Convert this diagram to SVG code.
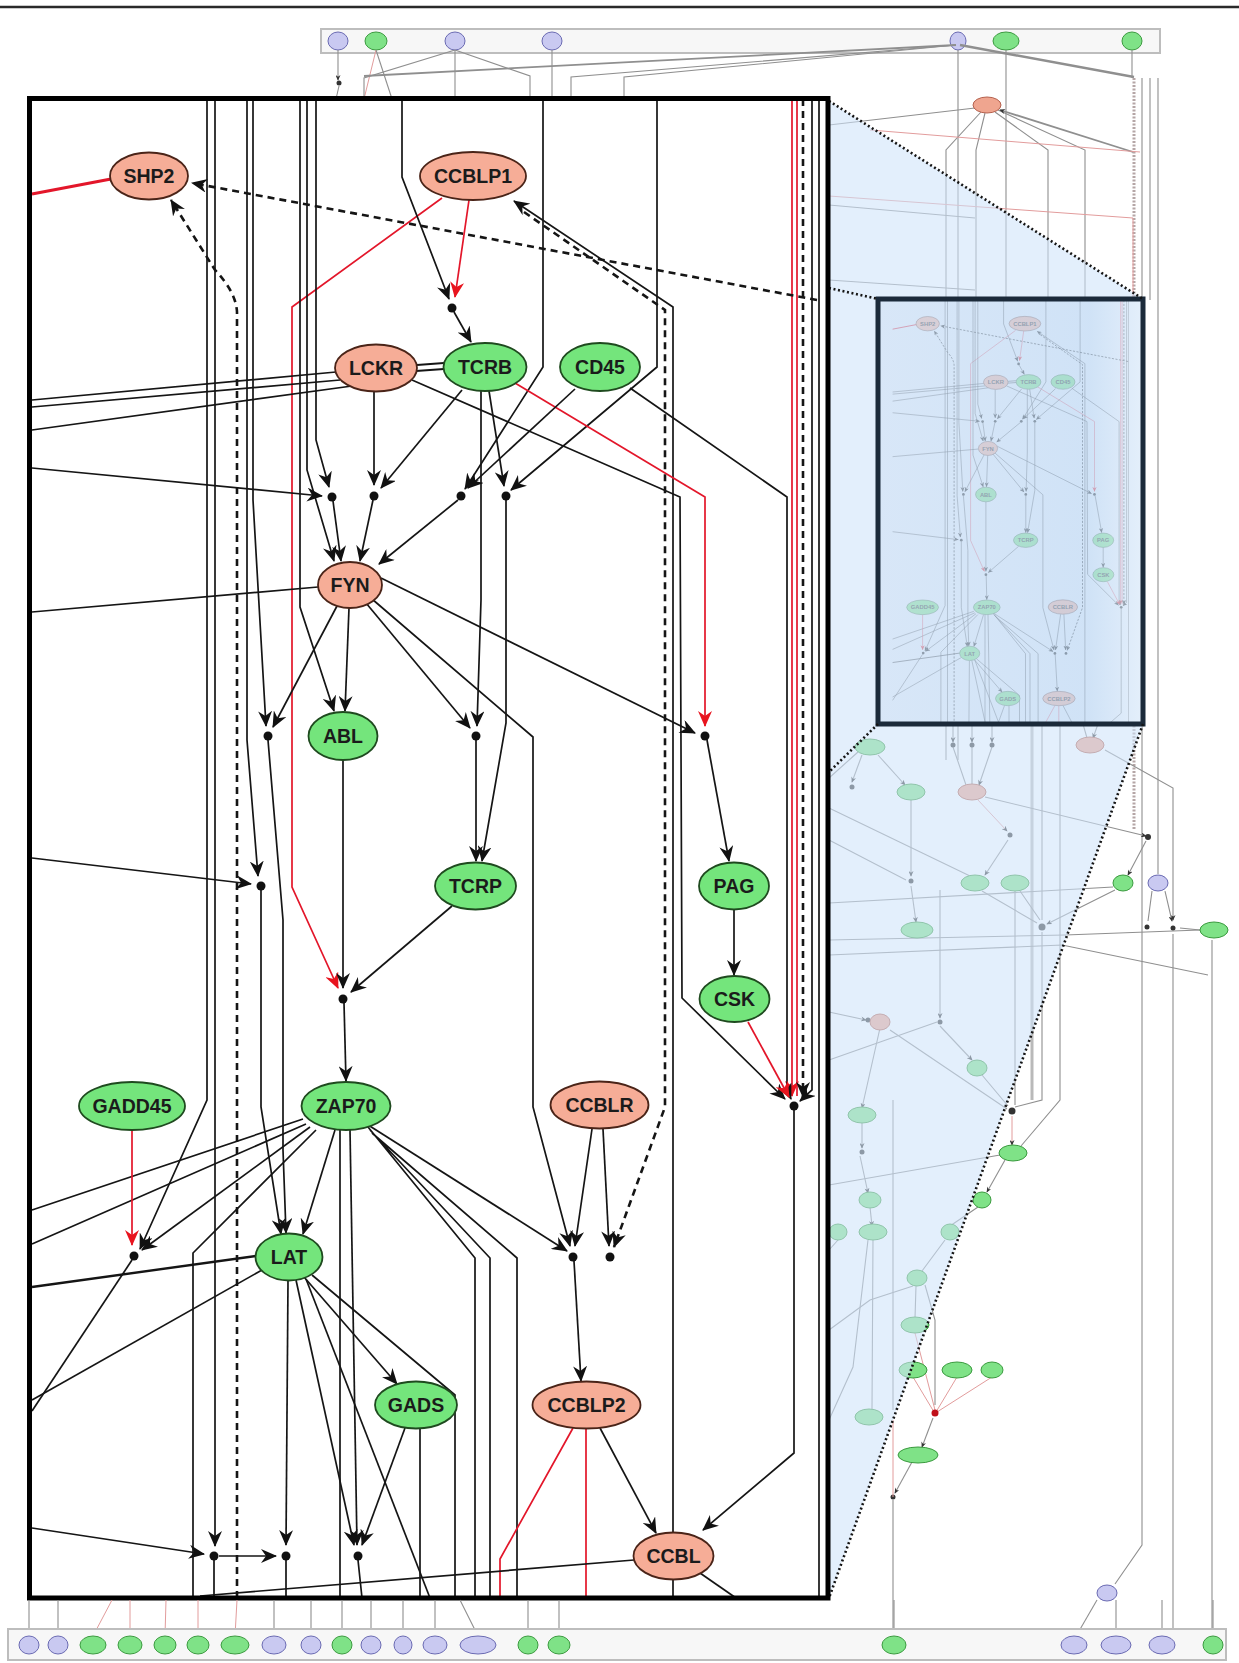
<svg xmlns="http://www.w3.org/2000/svg" xmlns:xlink="http://www.w3.org/1999/xlink" width="1239" height="1663" viewBox="0 0 1239 1663">
<style>
.e{fill:none;stroke:#151515;stroke-width:1.7}
.r{fill:none;stroke:#e3162a;stroke-width:1.7}
.d{fill:none;stroke:#151515;stroke-width:2.6;stroke-dasharray:7 5}
.a{marker-end:url(#ah)}
.ar{marker-end:url(#ahr)}
.j{fill:#111}
.pk ellipse{fill:#f6ad97;stroke:#4a2418;stroke-width:1.8}
.gn ellipse{fill:#74e57c;stroke:#1f4a1f;stroke-width:1.8}
.lbl{font-family:"Liberation Sans",Arial,sans-serif;font-weight:bold;font-size:19.5px;text-anchor:middle;fill:#1b1b1b}
.bg{fill:none;stroke:#8f8f8f;stroke-width:1.1}
.bgt{fill:none;stroke:#8f8f8f;stroke-width:2.4}
.bgr{fill:none;stroke:#e29c9c;stroke-width:1}
.bga{marker-end:url(#sah)}
.np{fill:#c9c9f1;stroke:#6a6ab2;stroke-width:1}
.ng{fill:#7fe287;stroke:#3b9a3f;stroke-width:1}
.nk{fill:#efa58f;stroke:#b5624f;stroke-width:1}
.dot{fill:none;stroke:#151515;stroke-width:2.6;stroke-dasharray:2 2.6}
.sj{fill:#333}
</style>
<defs>
<marker id="ah" viewBox="0 0 16 14" refX="15" refY="7" markerWidth="16" markerHeight="14" markerUnits="userSpaceOnUse" orient="auto"><path d="M0,0 L16,7 L0,14 L5,7 z" fill="#111"/></marker>
<marker id="ahr" viewBox="0 0 16 14" refX="15" refY="7" markerWidth="16" markerHeight="14" markerUnits="userSpaceOnUse" orient="auto"><path d="M0,0 L16,7 L0,14 L5,7 z" fill="#e8141e"/></marker>
<marker id="sah" viewBox="0 0 8 7" refX="7" refY="3.5" markerWidth="6" markerHeight="5" markerUnits="userSpaceOnUse" orient="auto"><path d="M0,0 L8,3.5 L0,7 L2.5,3.5 z" fill="#333"/></marker>
<linearGradient id="rectg" x1="0" y1="0" x2="1" y2="0"><stop offset="0" stop-color="#c6dcf4"/><stop offset="0.8" stop-color="#b7d4f2"/><stop offset="1" stop-color="#dcebfa"/></linearGradient>
<clipPath id="miniClip"><rect x="880" y="301" width="261" height="421"/></clipPath>
</defs>
<rect x="0" y="0" width="1239" height="1663" fill="#fff"/>
<line x1="0" y1="7" x2="1239" y2="7" stroke="#2a2a2a" stroke-width="2.5"/>

<!-- top box -->
<g id="top-box">
<rect x="321" y="29" width="839" height="24" fill="#f7f7f7" stroke="#bdbdbd" stroke-width="2"/>
<ellipse class="np" cx="338" cy="41" rx="10" ry="9"/>
<ellipse class="ng" cx="376" cy="41" rx="11" ry="9"/>
<ellipse class="np" cx="455" cy="41" rx="10" ry="9"/>
<ellipse class="np" cx="552" cy="41" rx="10" ry="9"/>
<ellipse class="np" cx="958" cy="41" rx="8" ry="9"/>
<ellipse class="ng" cx="1006" cy="41" rx="13" ry="9"/>
<ellipse class="ng" cx="1132" cy="41" rx="10" ry="9"/>
</g>

<!-- background graph connectors -->
<g id="background-connectors">
<path class="bg bga" d="M338,50 V80"/><circle class="sj" cx="339" cy="83" r="2.5"/><path class="bg" d="M339,86 L336,99"/>
<path class="bgr" d="M376,50 L364,99"/>
<path class="bg" d="M376,50 L392,99"/>
<path class="bg" d="M455,50 L364,78 V99"/>
<path class="bg" d="M455,50 L530,76 V99"/>
<path class="bg" d="M455,50 V99"/>
<path class="bg" d="M552,50 V99"/>
<path class="bgt" style="stroke-width:1.8" d="M956,45 L364,76"/>
<path class="bg" d="M956,45 L571,77 V99"/>
<path class="bg" d="M956,45 L624,77 V99"/>
<path class="bgt" d="M960,45 L1134,77"/>
<path class="bg" d="M958,50 V760"/>
<path class="bg" d="M1006,50 V300"/>
<path class="bg" d="M1132,50 V78"/>
<path class="bgt" style="stroke:#b5a6a6;stroke-dasharray:2 1.5;stroke-width:3" d="M1134,78 V830"/>
<path class="bg" d="M1142,78 V1545 L1115,1584"/>
<path class="bg" d="M1150,78 V300"/>
<path class="bg" d="M1158,78 V874"/>
<path class="bg" d="M975,108 L829,125"/>
<path class="bg" d="M981,112 L946,150 V760"/>
<path class="bg" d="M985,113 L976,150 V300"/>
<path class="bg" d="M995,112 L1048,150 V300"/>
<path class="bg" d="M998,110 L1085,150 V300"/>
<path class="bgt bga" style="stroke-width:1.8" d="M1133,152 L1000,110"/>
<path class="bgr" d="M870,130 L1140,152 M829,196 L1133,218 V300"/>
<path class="bg" d="M829,205 L975,218 M829,280 L975,290"/>
<path class="bg bga" d="M953,724 V742"/><path class="bg bga" d="M972,724 V742"/><path class="bg bga" d="M992,724 V742"/>
<path class="bg bga" d="M953,747 L966,785 M972,747 V784 M992,747 L979,785"/>
<path class="bgt" style="stroke:#b9b9b9;stroke-width:3" d="M1032,724 V1100"/>
<path class="bg" d="M1042,724 V920 M1060,724 V1100 L1021,1146"/>
<path class="bg bga" d="M1083,724 L1087,738 M1098,724 L1093,738"/>
<path class="bg bga" d="M1105,750 L1173,788 V920"/>
<path class="bg" d="M1173,934 V1640"/>
<path class="bg" d="M1212,940 V1640"/>
<path class="bg bga" d="M878,755 L905,785"/>
<path class="bg bga" d="M862,755 L852,782"/>
<path class="bg" d="M829,778 L858,752"/>
<path class="bg bga" d="M911,800 V876"/><path class="bg bga" d="M911,886 L916,922"/>
<path class="bg" d="M829,840 L906,880 M829,808 L970,876 M829,903 L1113,887 M829,940 L1065,935 L1200,930"/>
<path class="bg" d="M829,955 L1062,945 L1208,975"/>
<path class="bg bga" d="M985,797 L1146,836"/>
<path class="bgr bga" d="M978,800 L1007,831"/>
<path class="bg bga" d="M1008,840 L985,875"/>
<path class="bg bga" d="M1146,841 L1128,875"/>
<path class="bg bga" d="M982,891 L1037,923 M1020,891 L1040,920 M1115,890 L1047,924"/>
<path class="bg bga" d="M1152,891 L1148,921 M1165,891 L1172,921"/>
<path class="bg" d="M1200,930 L1180,928 M1042,932 V1100 L1015,1107 M1015,891 V1105"/>
<path class="bg bga" d="M940,890 V1018"/><path class="bg bga" d="M940,1026 L972,1060"/>
<path class="bg bga" d="M829,1012 L866,1020"/><path class="bg" d="M890,1030 L1007,1109 M982,1075 L1008,1106"/>
<path class="bgr bga" d="M1012,1116 V1145"/>
<path class="bg bga" d="M1005,1160 L987,1192"/>
<path class="bg" d="M1000,1155 L829,1185 M937,1022 L829,1060"/>
<path class="bg bga" d="M880,1028 L862,1108"/>
<path class="bg bga" d="M862,1122 V1148"/><path class="bg bga" d="M860,1156 L868,1193"/>
<path class="bg bga" d="M870,1207 L872,1226"/>
<path class="bg" d="M978,1207 L950,1226 M945,1240 L922,1271 M916,1286 L915,1318 M925,1285 L935,1320 V1405"/>
<path class="bg" d="M873,1239 L872,1410 M868,1240 L853,1367 L829,1420 M838,1240 L829,1250"/>
<path class="bg" d="M913,1286 L870,1300 L829,1330"/>
<path class="bgr" d="M913,1377 L934,1412 M957,1377 L936,1412 M992,1377 L937,1412 M915,1333 L935,1410"/>
<circle cx="935" cy="1413" r="3.5" fill="#c0101a"/>
<path class="bg bga" d="M933,1418 L922,1447"/>
<path class="bg bga" d="M912,1462 L895,1493"/><circle class="sj" cx="893" cy="1497" r="2.5"/>
<path class="bgr" d="M893,1420 V1497"/>
<path class="bg" d="M893,1100 V1410 M893,1500 V1638"/>
<path class="bg" d="M1097,1600 L1075,1638"/>
<circle class="sj" cx="953" cy="745" r="2.5"/><circle class="sj" cx="972" cy="745" r="2.5"/><circle class="sj" cx="992" cy="745" r="2.5"/>
<circle class="sj" cx="852" cy="787" r="2.5"/><circle class="sj" cx="911" cy="881" r="2.5"/><circle class="sj" cx="1010" cy="835" r="2.5"/>
<circle class="sj" cx="1148" cy="837" r="3"/><circle class="sj" cx="1042" cy="927" r="3.5"/><circle class="sj" cx="1147" cy="927" r="2.5"/>
<circle class="sj" cx="1173" cy="928" r="2.5"/><circle class="sj" cx="940" cy="1022" r="2.5"/><circle class="sj" cx="868" cy="1020" r="2.5"/>
<circle class="sj" cx="1012" cy="1111" r="3.5"/><circle class="sj" cx="862" cy="1152" r="2.5"/>
</g>

<!-- background nodes -->
<g id="background-nodes">
<ellipse id="bg-lckr" class="nk" cx="987" cy="105" rx="14" ry="8"/>
<ellipse class="ng" cx="870" cy="747" rx="15" ry="8"/>
<ellipse class="ng" cx="911" cy="792" rx="14" ry="8"/>
<ellipse class="nk" cx="972" cy="792" rx="14" ry="8"/>
<ellipse class="nk" cx="1090" cy="745" rx="14" ry="8"/>
<ellipse class="ng" cx="975" cy="883" rx="14" ry="8"/>
<ellipse class="ng" cx="1015" cy="883" rx="14" ry="8"/>
<ellipse class="ng" cx="1123" cy="883" rx="10" ry="8"/>
<ellipse class="np" cx="1158" cy="883" rx="10" ry="8"/>
<ellipse class="ng" cx="1214" cy="930" rx="14" ry="8"/>
<ellipse class="ng" cx="917" cy="930" rx="16" ry="8"/>
<ellipse class="nk" cx="880" cy="1022" rx="10" ry="8"/>
<ellipse class="ng" cx="977" cy="1068" rx="10" ry="8"/>
<ellipse class="ng" cx="862" cy="1115" rx="14" ry="8"/>
<ellipse class="ng" cx="1013" cy="1153" rx="14" ry="8"/>
<ellipse class="ng" cx="982" cy="1200" rx="9" ry="8"/>
<ellipse class="ng" cx="870" cy="1200" rx="11" ry="8"/>
<ellipse class="ng" cx="873" cy="1232" rx="14" ry="8"/>
<ellipse class="ng" cx="838" cy="1232" rx="9" ry="8"/>
<ellipse class="ng" cx="950" cy="1232" rx="9" ry="8"/>
<ellipse class="ng" cx="917" cy="1278" rx="10" ry="8"/>
<ellipse class="ng" cx="915" cy="1325" rx="14" ry="8"/>
<ellipse class="ng" cx="913" cy="1370" rx="14" ry="8"/>
<ellipse class="ng" cx="957" cy="1370" rx="15" ry="8"/>
<ellipse class="ng" cx="992" cy="1370" rx="11" ry="8"/>
<ellipse class="ng" cx="869" cy="1417" rx="14" ry="8"/>
<ellipse class="ng" cx="918" cy="1455" rx="20" ry="8"/>
<ellipse class="np" cx="1107" cy="1593" rx="10" ry="8"/>
</g>

<!-- projection region -->
<polygon points="829,101 1143,299 1143,724 829,1598" fill="#cfe3f9" fill-opacity="0.58"/>

<!-- overview rectangle with miniature -->
<g id="overview">
<rect x="878" y="299" width="265" height="425" fill="#eef4fc"/>
<g clip-path="url(#miniClip)" opacity="0.7">
<use xlink:href="#inset-graph" href="#inset-graph" transform="translate(883,270) scale(0.3,0.305)"/>
</g>
<rect x="878" y="299" width="265" height="425" fill="url(#rectg)" fill-opacity="0.55" stroke="#1b2a3a" stroke-width="5"/>
</g>

<!-- projection dotted lines -->
<g id="projection-lines">
<path class="dot" d="M829,101 L1143,299"/>
<path class="dot" d="M1143,724 L829,1598"/>
<path class="dot" d="M829,288 L878,299"/>
<path class="dot" d="M878,724 L829,772"/>
</g>

<!-- main inset -->
<rect x="29.5" y="98.5" width="798.5" height="1499.5" fill="#fff"/>
<g id="inset-graph">
<g id="connectors">
<path class="e a" d="M207,99 V1100 L140,1249"/>
<path class="e a" d="M215,99 V1546"/>
<path class="d a" d="M237,1598 V312 Q236,292 215,270 L171,200"/>
<path class="e a" d="M247,99 V740 L258,876"/>
<path class="e a" d="M253,99 V500 L266,726"/>
<path class="r ar" d="M442,198 L292,307 V887 L338,988"/>
<path class="e a" d="M300,99 V607 L334,711"/>
<path class="e a" d="M307,99 V470 L334,561"/>
<path class="e a" d="M316,99 V440 L329,487"/>
<path class="e a" d="M402,99 V177 L449,299"/>
<path class="e a" d="M543,99 V367 L465,489"/>
<path class="e a" d="M657,99 V367 L511,490"/>
<path class="r ar" d="M792,99 V1096"/>
<path class="r" d="M797,99 V1096"/>
<path class="d a" d="M803,99 V1097"/>
<path class="e a" d="M812,99 V1090 L800,1101"/>
<path class="e" d="M819,99 V1598"/>
<path class="e a" d="M630,388 L787,497 V1090 L791,1099"/>
<path class="e a" d="M673,1598 V307 L514,201"/>
<path class="d a" d="M524,212 L665,310 V1107 L614,1247"/>
<path class="d a" d="M817,300 L192,183"/>
<path class="r" style="stroke-width:3.2" d="M32,194 L111,179"/>
<path class="r ar" d="M469,200 L455,297"/>
<path class="e a" d="M454,312 L471,342"/>
<path class="e" style="stroke-width:2" d="M417,365 L444,363 M416,371 L444,369"/>
<path class="e" d="M32,400 L336,372 M32,407 L340,380 M32,430 L352,386"/>
<path class="e a" d="M374,392 V485"/>
<path class="e a" d="M412,380 L680,497 L682,998 L785,1099"/>
<path class="e a" d="M462,390 L381,488"/>
<path class="e a" d="M489,391 L504,486"/>
<path class="e a" d="M481,391 V600 L477,726"/>
<path class="r ar" d="M515,383 L705,497 V726"/>
<path class="e a" d="M575,389 L468,488"/>
<path class="e a" d="M32,468 L322,496"/>
<path class="e a" d="M32,858 L251,884"/>
<path class="e a" d="M333,501 L341,561"/>
<path class="e a" d="M373,500 L360,561"/>
<path class="e a" d="M458,500 L379,564"/>
<path class="e a" d="M506,500 V723 L482,861"/>
<path class="e a" d="M476,740 V861"/>
<path class="e" d="M318,587 L32,612"/>
<path class="e a" d="M337,606 L273,727"/>
<path class="e a" d="M349,608 L345,711"/>
<path class="e a" d="M366,603 L470,728"/>
<path class="e a" d="M372,599 L533,737 V1107 L570,1246"/>
<path class="e a" d="M381,578 L695,733"/>
<path class="e a" d="M343,760 V988"/>
<path class="e a" d="M452,906 L351,992"/>
<path class="e a" d="M344,1003 L346,1081"/>
<path class="e a" d="M707,740 L729,861"/>
<path class="e a" d="M734,909 V975"/>
<path class="r ar" d="M748,1022 L789,1097"/>
<path class="e a" d="M794,1110 V1453 L703,1530"/>
<path class="e a" d="M268,740 L283,920 V1150 L286,1233"/>
<path class="e a" d="M261,890 V1107 L281,1234"/>
<path class="e a" d="M335,1130 L303,1234"/>
<path class="e" d="M303,1119 L32,1210 M306,1124 L32,1244"/>
<path class="e a" d="M310,1127 L142,1250"/>
<path class="e" d="M316,1130 L193,1253 V1598"/>
<path class="e" d="M340,1130 V1598"/>
<path class="e a" d="M350,1130 L357,1545"/>
<path class="e a" d="M365,1123 L567,1251"/>
<path class="e" d="M368,1127 L475,1258 V1598 M370,1130 L490,1258 V1598 M372,1133 L517,1258 V1598"/>
<path class="e a" d="M592,1129 L575,1246"/>
<path class="e a" d="M603,1129 L609,1246"/>
<path class="e a" d="M574,1261 L581,1381"/>
<path class="e a" d="M600,1428 L656,1533"/>
<path class="r" d="M573,1428 L500,1559 V1598 M586,1429 V1598"/>
<path class="r ar" d="M132,1130 V1245"/>
<path class="e" d="M132,1260 L32,1411"/>
<path class="e" style="stroke-width:2.4" d="M32,1287 L256,1256"/>
<path class="e" d="M262,1270 L32,1400"/>
<path class="e a" d="M304,1277 L397,1384"/>
<path class="e a" d="M288,1281 L286,1545"/>
<path class="e a" d="M296,1280 L354,1545"/>
<path class="e" d="M312,1275 L455,1395 V1598"/>
<path class="e" d="M306,1279 L430,1598"/>
<path class="e a" d="M405,1428 L362,1545"/>
<path class="e" d="M420,1429 V1598"/>
<path class="e a" d="M32,1528 L204,1554"/>
<path class="e a" d="M219,1556 H276"/>
<path class="e" d="M214,1560 V1598 M286,1560 V1598 M358,1560 L362,1598"/>
<path class="e" d="M634,1560 L200,1596"/>
<path class="e" d="M700,1573 L736,1598"/>
<circle class="j" cx="452" cy="308" r="4.5"/>
<circle class="j" cx="332" cy="497" r="4.5"/>
<circle class="j" cx="374" cy="496" r="4.5"/>
<circle class="j" cx="461" cy="496" r="4.5"/>
<circle class="j" cx="506" cy="496" r="4.5"/>
<circle class="j" cx="268" cy="736" r="4.5"/>
<circle class="j" cx="476" cy="736" r="4.5"/>
<circle class="j" cx="705" cy="736" r="4.5"/>
<circle class="j" cx="261" cy="886" r="4.5"/>
<circle class="j" cx="343" cy="999" r="4.5"/>
<circle class="j" cx="794" cy="1106" r="4.5"/>
<circle class="j" cx="134" cy="1256" r="4.5"/>
<circle class="j" cx="573" cy="1257" r="4.5"/>
<circle class="j" cx="610" cy="1257" r="4.5"/>
<circle class="j" cx="214" cy="1556" r="4.5"/>
<circle class="j" cx="286" cy="1556" r="4.5"/>
<circle class="j" cx="358" cy="1556" r="4.5"/>
</g>
<g id="node-SHP2" class="pk"><ellipse cx="149" cy="176" rx="39" ry="23.5"/><text class="lbl" x="149" y="183">SHP2</text></g>
<g id="node-CCBLP1" class="pk"><ellipse cx="473" cy="176" rx="53" ry="24"/><text class="lbl" x="473" y="183">CCBLP1</text></g>
<g id="node-LCKR" class="pk"><ellipse cx="376" cy="368" rx="41" ry="23.5"/><text class="lbl" x="376" y="375">LCKR</text></g>
<g id="node-TCRB" class="gn"><ellipse cx="485" cy="367" rx="41.5" ry="24"/><text class="lbl" x="485" y="374">TCRB</text></g>
<g id="node-CD45" class="gn"><ellipse cx="600" cy="367" rx="40" ry="24"/><text class="lbl" x="600" y="374">CD45</text></g>
<g id="node-FYN" class="pk"><ellipse cx="350" cy="585" rx="32" ry="23"/><text class="lbl" x="350" y="592">FYN</text></g>
<g id="node-ABL" class="gn"><ellipse cx="343" cy="736" rx="34.5" ry="24"/><text class="lbl" x="343" y="743">ABL</text></g>
<g id="node-TCRP" class="gn"><ellipse cx="475.5" cy="886" rx="40.5" ry="23.5"/><text class="lbl" x="475.5" y="893">TCRP</text></g>
<g id="node-PAG" class="gn"><ellipse cx="734" cy="886" rx="35" ry="23.5"/><text class="lbl" x="734" y="893">PAG</text></g>
<g id="node-CSK" class="gn"><ellipse cx="734.5" cy="999" rx="35" ry="23"/><text class="lbl" x="734.5" y="1006">CSK</text></g>
<g id="node-GADD45" class="gn"><ellipse cx="132" cy="1106" rx="53" ry="24"/><text class="lbl" x="132" y="1113">GADD45</text></g>
<g id="node-ZAP70" class="gn"><ellipse cx="346" cy="1106" rx="44.5" ry="24"/><text class="lbl" x="346" y="1113">ZAP70</text></g>
<g id="node-CCBLR" class="pk"><ellipse cx="599.5" cy="1105" rx="49" ry="23.5"/><text class="lbl" x="599.5" y="1112">CCBLR</text></g>
<g id="node-LAT" class="gn"><ellipse cx="289" cy="1257" rx="33.5" ry="23.5"/><text class="lbl" x="289" y="1264">LAT</text></g>
<g id="node-GADS" class="gn"><ellipse cx="416" cy="1405" rx="41" ry="23.5"/><text class="lbl" x="416" y="1412">GADS</text></g>
<g id="node-CCBLP2" class="pk"><ellipse cx="586.5" cy="1405" rx="54" ry="23.5"/><text class="lbl" x="586.5" y="1412">CCBLP2</text></g>
<g id="node-CCBL" class="pk"><ellipse cx="673.5" cy="1556" rx="40" ry="23.5"/><text class="lbl" x="673.5" y="1563">CCBL</text></g>
</g>
<rect x="29.5" y="98.5" width="798.5" height="1499.5" fill="none" stroke="#000" stroke-width="5"/>

<!-- bottom box -->
<g id="bottom-connectors">
<path class="bg" d="M29,1600 V1636 M58,1600 V1636 M274,1600 V1636 M311,1600 V1636 M342,1600 V1636 M371,1600 V1636 M403,1600 V1636 M435,1600 V1636 M460,1600 L478,1636 M528,1600 V1636 M559,1600 V1636 M894,1600 V1636 M1116,1600 V1636 M1162,1600 V1636 M1213,1600 V1636"/>
<path class="bgr" d="M112,1600 L93,1636 M130,1600 V1636 M166,1600 L165,1636 M198,1600 V1636 M237,1600 L235,1636"/>
</g>
<g id="bottom-box">
<rect x="8" y="1629" width="1218" height="31" fill="#f7f7f7" stroke="#bdbdbd" stroke-width="2"/>
<ellipse class="np" cx="29" cy="1645" rx="10" ry="9"/>
<ellipse class="np" cx="58" cy="1645" rx="10" ry="9"/>
<ellipse class="ng" cx="93" cy="1645" rx="13" ry="9"/>
<ellipse class="ng" cx="130" cy="1645" rx="12" ry="9"/>
<ellipse class="ng" cx="165" cy="1645" rx="11" ry="9"/>
<ellipse class="ng" cx="198" cy="1645" rx="11" ry="9"/>
<ellipse class="ng" cx="235" cy="1645" rx="14" ry="9"/>
<ellipse class="np" cx="274" cy="1645" rx="12" ry="9"/>
<ellipse class="np" cx="311" cy="1645" rx="10" ry="9"/>
<ellipse class="ng" cx="342" cy="1645" rx="10" ry="9"/>
<ellipse class="np" cx="371" cy="1645" rx="10" ry="9"/>
<ellipse class="np" cx="403" cy="1645" rx="9" ry="9"/>
<ellipse class="np" cx="435" cy="1645" rx="12" ry="9"/>
<ellipse class="np" cx="478" cy="1645" rx="18" ry="9"/>
<ellipse class="ng" cx="528" cy="1645" rx="10" ry="9"/>
<ellipse class="ng" cx="559" cy="1645" rx="11" ry="9"/>
<ellipse class="ng" cx="894" cy="1645" rx="12" ry="9"/>
<ellipse class="np" cx="1074" cy="1645" rx="13" ry="9"/>
<ellipse class="np" cx="1116" cy="1645" rx="15" ry="9"/>
<ellipse class="np" cx="1162" cy="1645" rx="13" ry="9"/>
<ellipse class="ng" cx="1213" cy="1645" rx="10" ry="9"/>
</g>
</svg>
